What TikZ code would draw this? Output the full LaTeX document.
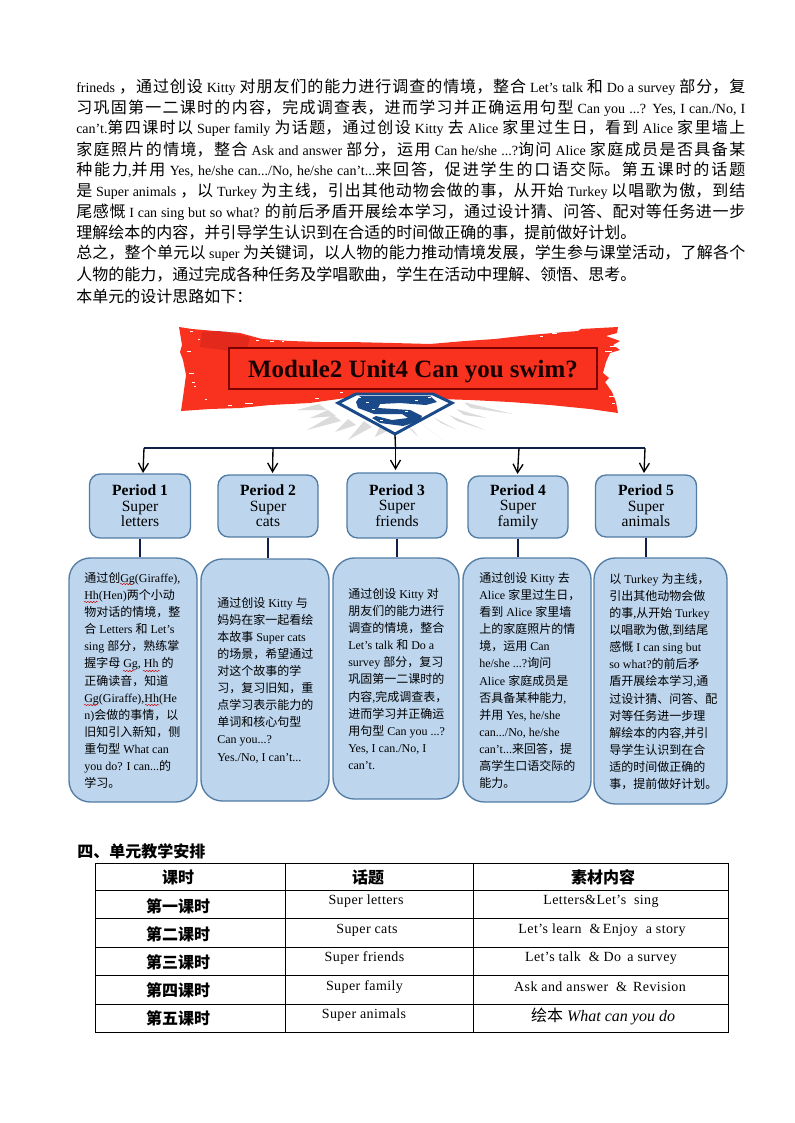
\documentclass[tikz,border=0pt]{standalone}
\usepackage{fontspec}
\usetikzlibrary{arrows.meta,decorations.pathmorphing}
\setmainfont{Liberation Serif}
\newfontfamily\cjk{Noto Sans CJK SC}
\newfontfamily\cjkbig[Scale=1.143]{Noto Sans CJK SC}
\newfontfamily\tblf[LetterSpace=3]{Liberation Serif}
\def\cjkswitch{\cjk}
\XeTeXinterchartokenstate=1
\chardef\cjkcl=7
\makeatletter
\count255="4E00
\loop
  \XeTeXcharclass\count255=\cjkcl
  \ifnum\count255<"9FFF \advance\count255 1
\repeat
\XeTeXcharclass"3001=\cjkcl
\XeTeXcharclass"3002=\cjkcl
\XeTeXcharclass"FF0C=\cjkcl
\XeTeXcharclass"FF1A=\cjkcl
\XeTeXcharclass"FF1F=\cjkcl
\@for\cl:=0,1,2,3,4095\do{%
  \XeTeXinterchartoks\cl\cjkcl={\begingroup\cjkswitch}%
  \XeTeXinterchartoks\cjkcl\cl={\endgroup}%
}
\makeatother
\definecolor{boxfill}{HTML}{BDD6EE}
\definecolor{boxline}{HTML}{527CA3}
\definecolor{linknavy}{HTML}{10204A}
\definecolor{bannerred}{HTML}{F93220}
\definecolor{shieldblue}{HTML}{1B4A8A}
\newcommand{\bodyline}[3]{\node[bodytext] (#1) at (76,#2) {\parbox{501.75pt}{\hyphenpenalty=10000 \exhyphenpenalty=10000 \tolerance=9999 \hbadness=10000 \parfillskip=0pt \XeTeXlinebreaklocale "zh" \XeTeXlinebreakskip=0pt plus 3pt minus 0.5pt \noindent #3}};}
\newcommand{\plainline}[3]{\node[bodytext] (#1) at (76,#2) {#3};}
\tikzset{
  x=0.75pt,y=-0.75pt,
  bodytext/.style={anchor=west,inner sep=0pt,font=\fontsize{10.5}{12}\selectfont\let\cjkswitch\cjkbig},
  periodbox/.style={draw=boxline,fill=boxfill,line width=1pt,rounded corners=8pt,inner sep=0pt,align=center,font=\fontsize{11.7}{11.6}\selectfont},
  storybox/.style={draw=boxline,fill=boxfill,line width=1pt,rounded corners=16pt,inner sep=0pt},
  storytext/.style={anchor=west,inner sep=0pt,align=left,font=\fontsize{9}{12.83}\selectfont},
  stem/.style={draw=linknavy,line width=1.2pt},
  bus/.style={draw=linknavy,line width=0.9pt},
  droparrow/.style={draw=black,line width=1pt,-{Straight Barb[length=6.5pt,width=7.5pt,line width=1pt]}},
  tablerule/.style={draw=black,line width=0.7pt},
  headcell/.style={inner sep=0pt,font=\fontsize{12}{13}\selectfont\bfseries},
  sidecell/.style={inner sep=0pt,font=\fontsize{12}{13}\selectfont\bfseries},
  bodycell/.style={inner sep=0pt,font=\fontsize{10.5}{12}\tblf},
  speck/.style={fill=white,draw=none},
  squig/.style={draw=red!80!black,line width=0.35pt,decorate,decoration={snake,amplitude=0.5pt,segment length=2.2pt}},
  ray/.style={fill=black!14,draw=none}
}
\begin{document}
\begin{tikzpicture}
\useasboundingbox (0,0) rectangle (794,1123);
\fill[white] (0,0) rectangle (794,1123);

\bodyline{l1}{87}{frineds ，通过创设 Kitty 对朋友们的能力进行调查的情境，整合 Let's talk 和 Do a survey 部分，复}
\bodyline{l2}{108}{习巩固第一二课时的内容，完成调查表，进而学习并正确运用句型 Can you ...? Yes, I \mbox{can./No,} I}
\bodyline{l3}{128.5}{can't.第四课时以 Super family 为话题，通过创设 Kitty 去 Alice 家里过生日，看到 Alice 家里墙上}
\bodyline{l4}{149.5}{家庭照片的情境，整合 Ask and answer 部分，运用 Can \mbox{he/she} ...?询问 Alice 家庭成员是否具备某}
\bodyline{l5}{170}{种能力,并用 Yes, \mbox{he/she} \mbox{can.../No,} \mbox{he/she} can't...来回答，促进学生的口语交际。第五课时的话题}
\bodyline{l6}{191}{是 Super animals ，以 Turkey 为主线，引出其他动物会做的事，从开始 Turkey 以唱歌为傲，到结}
\bodyline{l7}{212}{尾感慨 I can sing but so what? 的前后矛盾开展绘本学习，通过设计猜、问答、配对等任务进一步}
\plainline{l8}{232.5}{理解绘本的内容，并引导学生认识到在合适的时间做正确的事，提前做好计划。}
\bodyline{l9}{253.5}{总之，整个单元以 super 为关键词，以人物的能力推动情境发展，学生参与课堂活动，了解各个}
\plainline{l10}{275}{人物的能力，通过完成各种任务及学唱歌曲，学生在活动中理解、领悟、思考。}
\plainline{l11}{296.5}{本单元的设计思路如下：}

% light rays behind the shield
\foreach \tx/\ty/\bx/\by in {297/410/323/407,310/418/332/413,307/430/337/418,335/432/352/422,348/440/368/424,375/437/385/427,513/414/467/405,487/418/460/412,485/430/453/418,457/430/437/420,443/440/423/425,418/437/410/428}
  \fill[ray] (\tx,\ty) -- (\bx-4,\by-3) -- (\bx+4,\by+3) -- cycle;
\fill[white] (395,398) ellipse (72 and 22);

% torn red banner
\fill[bannerred] (179,327) -- (192,329) -- (215,331) -- (240,333) -- (262,339) -- (290,341) -- (320,342) -- (350,342) -- (393,343) -- (430,344) -- (465,341) -- (495,339) -- (530,335) -- (565,332) -- (578,331) -- (581,329) -- (618,327) -- (617,333) -- (606,336) -- (620,341) -- (613,345) -- (620,350) -- (610,353) -- (606,362) -- (603,373) -- (609,378) -- (605,382) -- (612,392) -- (616,402) -- (618,413) -- (590,409) -- (550,405) -- (510,402) -- (470,400) -- (440,399) -- (420,394) -- (370,394) -- (345,398) -- (310,403) -- (270,405) -- (240,408) -- (210,409) -- (181,411) -- (184,390) -- (186,375) -- (183,360) -- (180,352) -- (182,345) -- cycle;
\fill[black!10!bannerred!92!red] (202,332) -- (218,331) -- (250,337) -- (246,353) -- (200,347) -- cycle;
\fill[shieldblue] (218,331) -- (238,333) -- (232,332.5) -- cycle;
\foreach \sx/\sy/\sw/\sh in {190/331/3/0.8,198/339/2/0.8,187/351/4/0.8,189/373/5/1.2,194/386/2/1.2,192/382/3/0.8,205/399/2/0.8,245/403/8/1,228/405/4/0.8,256/340/3/0.8,270/341/4/0.8,282/341/2/0.8,540/336/3/0.8,552/333/5/0.8,605/351/7/0.8,610/346/6/0.8,609/396/5/0.8,612/403/3/0.8,530/331/2/0.8,315/398/4/0.8,340/392/3/0.8}
  \fill[speck] (\sx,\sy) rectangle ++(\sw,\sh);

% title box
\node[draw=black!30!red!70!black,line width=1pt,fill=bannerred,minimum width=276pt,minimum height=30.75pt,inner sep=0pt,text height=14pt,text depth=1.2pt,font=\fontsize{18.7}{20}\selectfont\bfseries,text=black!90!red] (title) at (413,368.5) {Module2 Unit4 Can you swim?};

% shield
\fill[white,draw=shieldblue,line width=2.2pt,line join=miter] (338,403) -- (356,394) -- (433,394) -- (452,403) -- (395,434) -- cycle;
\fill[shieldblue] (360,396) -- (430,396) -- (437,402) -- (426,405) -- (400,403) -- (380,404) -- (378,408) -- (410,410) -- (422,416) -- (420,421) -- (403,426) -- (380,423) -- (372,418) -- (376,416) -- (392,420) -- (408,418) -- (402,414) -- (374,414) -- (358,408) -- (356,402) -- cycle;
\coordinate (shieldtip) at (395,435);
\foreach \sx/\sy in {358/397,372/409,405/411,428/397,380/420,366/402,415/400}
  \fill[speck] (\sx,\sy) rectangle ++(3,1);

% period boxes
\node[periodbox,minimum width=75.75pt,minimum height=48pt] (p1) at (140,506) {\textbf{Period 1}\\Super\\letters};
\node[periodbox,minimum width=75pt,minimum height=46.5pt] (p2) at (268,506) {\textbf{Period 2}\\Super\\cats};
\node[periodbox,minimum width=75pt,minimum height=48.75pt] (p3) at (397,505.5) {\textbf{Period 3}\\Super\\friends};
\node[periodbox,minimum width=75pt,minimum height=46.5pt] (p4) at (518,507) {\textbf{Period 4}\\Super\\family};
\node[periodbox,minimum width=75.75pt,minimum height=46.5pt] (p5) at (646,506) {\textbf{Period 5}\\Super\\animals};

% story boxes
\node[storybox,minimum width=96pt,minimum height=183pt] (s1) at (133,680) {};
\node[storybox,minimum width=96pt,minimum height=181.5pt] (s2) at (265,680) {};
\node[storybox,minimum width=94.5pt,minimum height=180.75pt] (s3) at (396,678.5) {};
\node[storybox,minimum width=96pt,minimum height=183pt] (s4) at (527,680) {};
\node[storybox,minimum width=99.75pt,minimum height=184.5pt] (s5) at (660.5,681) {};

\node[storytext] (t1) at (84,680.5) {通过创Gg(Giraffe),\\Hh(Hen)两个小动\\物对话的情境，整\\合 Letters 和 Let’s\\sing 部分，熟练掌\\握字母 Gg, Hh 的\\正确读音，知道\\Gg(Giraffe),Hh(He\\n)会做的事情，以\\旧知引入新知，侧\\重句型 What can\\you do? I can...的\\学习。};
\node[storytext] (t2) at (217,680) {通过创设 Kitty 与\\妈妈在家一起看绘\\本故事 Super cats\\的场景，希望通过\\对这个故事的学\\习，复习旧知，重\\点学习表示能力的\\单词和核心句型\\Can you...?\\Yes./No, I can’t...};
\node[storytext] (t3) at (348,679) {通过创设 Kitty 对\\朋友们的能力进行\\调查的情境，整合\\Let's talk 和 Do a\\survey 部分，复习\\巩固第一二课时的\\内容,完成调查表，\\进而学习并正确运\\用句型 Can you ...?\\Yes, I can./No, I\\can’t.};
\node[storytext] (t4) at (479,680.5) {通过创设 Kitty 去\\Alice 家里过生日，\\看到 Alice 家里墙\\上的家庭照片的情\\境，运用 Can\\he/she ...?询问\\Alice 家庭成员是\\否具备某种能力,\\并用 Yes, he/she\\can.../No, he/she\\can’t...来回答，提\\高学生口语交际的\\能力。};
\node[storytext] (t5) at (609,681.5) {以 Turkey 为主线，\\引出其他动物会做\\的事,从开始 Turkey\\以唱歌为傲,到结尾\\感慨 I can sing but\\so what?的前后矛\\盾开展绘本学习,通\\过设计猜、问答、配\\对等任务进一步理\\解绘本的内容,并引\\导学生认识到在合\\适的时间做正确的\\事，提前做好计划。};

% spell-check underlines
\draw[squig] (120,584) -- (133,584);
\draw[squig] (84,602) -- (98,602);
\draw[squig] (123,671) -- (135,671);
\draw[squig] (143,671) -- (160,671);
\draw[squig] (84,705) -- (98,705);
\draw[squig] (145,705) -- (160,705);

% connectors
\foreach \i in {1,...,5} \draw[stem] (p\i.south) -- (s\i.north -| p\i.south);
\coordinate (a1) at (144,448);\coordinate (e1) at (143,473);
\coordinate (a2) at (273,448);\coordinate (e2) at (272.5,473);
\coordinate (a3) at (395.5,448);\coordinate (e3) at (395.5,470);
\coordinate (a4) at (519,448);\coordinate (e4) at (517.5,474);
\coordinate (a5) at (645,448);\coordinate (e5) at (644,473);
\draw[bus] (a1) -- (a5);
\draw[draw=black,line width=1pt] (shieldtip) -- (a3);
\foreach \i in {1,...,5} \draw[droparrow] (a\i) -- (e\i);

% section heading and table
\node[inner sep=0pt,anchor=west,font=\fontsize{12}{13}\selectfont\bfseries] (sec) at (77,851.5) {四、单元教学安排};
\draw[tablerule] (95,863) rectangle (728,1032);
\foreach \yy in {890,918,947,975,1004} \draw[tablerule] (95,\yy) -- (728,\yy);
\draw[tablerule] (285,863) -- (285,1032);
\draw[tablerule] (473,863) -- (473,1032);
\node[headcell] (h1) at (178,877) {课时};
\node[headcell] (h2) at (368,877) {话题};
\node[headcell] (h3) at (603,877) {素材内容};
\node[sidecell] (r1) at (178,906) {第一课时};
\node[sidecell] (r2) at (178,934) {第二课时};
\node[sidecell] (r3) at (178,962) {第三课时};
\node[sidecell] (r4) at (178,990) {第四课时};
\node[sidecell] (r5) at (178,1018) {第五课时};
\node[bodycell] (c1) at (366,901) {Super letters};
\node[bodycell] (c2) at (367,930) {Super cats};
\node[bodycell] (c3) at (364.5,958) {Super friends};
\node[bodycell] (c4) at (364.5,987) {Super family};
\node[bodycell] (c5) at (364,1015) {Super animals};
\node[bodycell] (d1) at (601,901) {Letters\&Let’s\ \ sing};
\node[bodycell] (d2) at (602,930) {Let’s learn\ \ \&\,Enjoy\ \ a story};
\node[bodycell] (d3) at (601,958) {Let’s talk\ \ \& Do\, a survey};
\node[bodycell] (d4) at (600,987) {Ask and answer\ \ \&\, Revision};
\node[inner sep=0pt,font=\fontsize{12}{13}\selectfont] (d5) at (603,1016) {绘本 \textit{What can you do}};
\end{tikzpicture}
\end{document}
